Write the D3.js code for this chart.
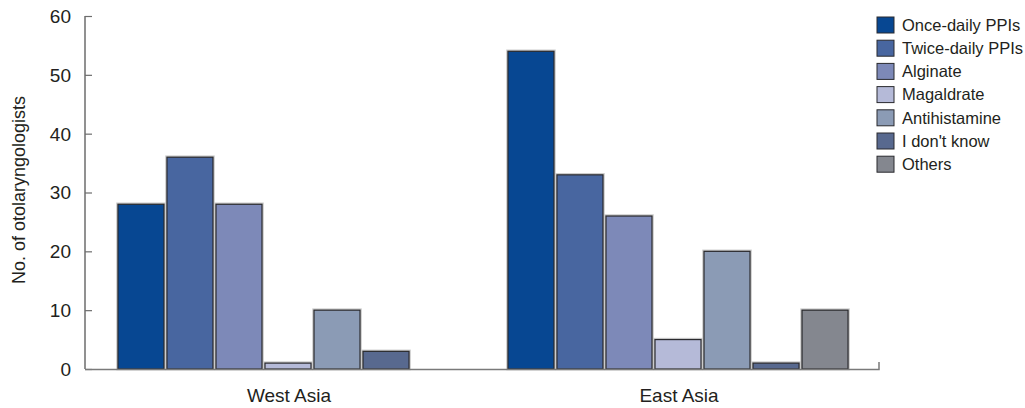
<!DOCTYPE html>
<html><head><meta charset="utf-8">
<script src="https://cdn.jsdelivr.net/npm/d3@7"></script>
<style>body{margin:0;background:#fff}svg{display:block}text{font-family:"Liberation Sans",Arial,sans-serif;fill:#231f20}</style>
</head><body><svg id="c" width="1025" height="408"></svg>
<script>
const regions = ["West Asia", "East Asia"];
const seriesNames = ["Once-daily PPIs","Twice-daily PPIs","Alginate","Magaldrate","Antihistamine","I don't know","Others"];
const westAsia = [28, 36, 28, 1, 10, 3, 0];
const eastAsia = [54, 33, 26, 5, 20, 1, 10];
const colors = ["#074792","#4866a0","#7d89b8","#b5bad8","#8b9bb5","#58698f","#84878f"];
const yTicks = [0,10,20,30,40,50,60];
const yTitle = "No. of otolaryngologists";

const values = [westAsia, eastAsia];
const svg = d3.select("#c");
const y = d3.scaleLinear().domain([0,60]).range([369,16]);
const x0 = d3.scaleBand().domain(regions).range([93,873]).paddingInner(0.128).paddingOuter(0.064);
const x1 = d3.scaleBand().domain(seriesNames).range([0,x0.bandwidth()]).paddingInner(0.061).paddingOuter(0);

// bars
regions.forEach((r,ri)=>{
  const g = svg.append("g").attr("transform",`translate(${x0(r)},0)`);
  g.selectAll("rect.halo").data(values[ri].map((v,i)=>({v,i})).filter(d=>d.v>0)).join("rect")
    .attr("x",d=>x1(seriesNames[d.i])-0.5).attr("y",d=>y(d.v)-0.5)
    .attr("width",x1.bandwidth()+1).attr("height",d=>y(0)-y(d.v)+0.5)
    .attr("fill","none").attr("stroke","#c8c8c8").attr("stroke-width",2.5);
  g.selectAll("rect.bar").data(values[ri].map((v,i)=>({v,i})).filter(d=>d.v>0)).join("rect")
    .attr("x",d=>x1(seriesNames[d.i])).attr("y",d=>y(d.v))
    .attr("width",x1.bandwidth()).attr("height",d=>y(0)-y(d.v))
    .attr("fill",d=>colors[d.i]).attr("stroke","#2a2a2e").attr("stroke-width",1.2);
});

// y axis
const yAxis = d3.axisLeft(y).tickValues(yTicks).tickSize(-7).tickPadding(14);
const ya = svg.append("g").attr("transform","translate(85,0)").call(yAxis);
ya.select(".domain").attr("stroke","#6d6d6d").attr("stroke-width",1.5).attr("d","M0,16V369");
ya.selectAll(".tick line").attr("stroke","#6d6d6d").attr("stroke-width",1.2);
ya.selectAll(".tick text").attr("font-size",19).attr("fill","#231f20").attr("dy","0.34em");

// x axis line
svg.append("path").attr("d","M85,369.5H879V362").attr("fill","none").attr("stroke","#7a7a7a").attr("stroke-width",1.5);
svg.selectAll("text.cat").data(regions).join("text").attr("class","cat")
  .attr("x",r=>x0(r)+x0.bandwidth()/2+1).attr("y",402).attr("text-anchor","middle")
  .attr("font-size",19).text(r=>r);

// y title
svg.append("text").attr("transform","translate(25,190) rotate(-90)").attr("text-anchor","middle")
  .attr("font-size",18).text(yTitle);

// legend
const lg = svg.append("g").attr("transform","translate(877,17)");
seriesNames.forEach((s,i)=>{
  const row = lg.append("g").attr("transform",`translate(0,${i*23.2})`);
  row.append("rect").attr("width",17).attr("height",16).attr("fill",colors[i]).attr("stroke","#2a2a2e").attr("stroke-width",1);
  row.append("text").attr("x",25).attr("y",8).attr("dy","0.35em").attr("font-size",16.5).text(s);
});
</script></body></html>
